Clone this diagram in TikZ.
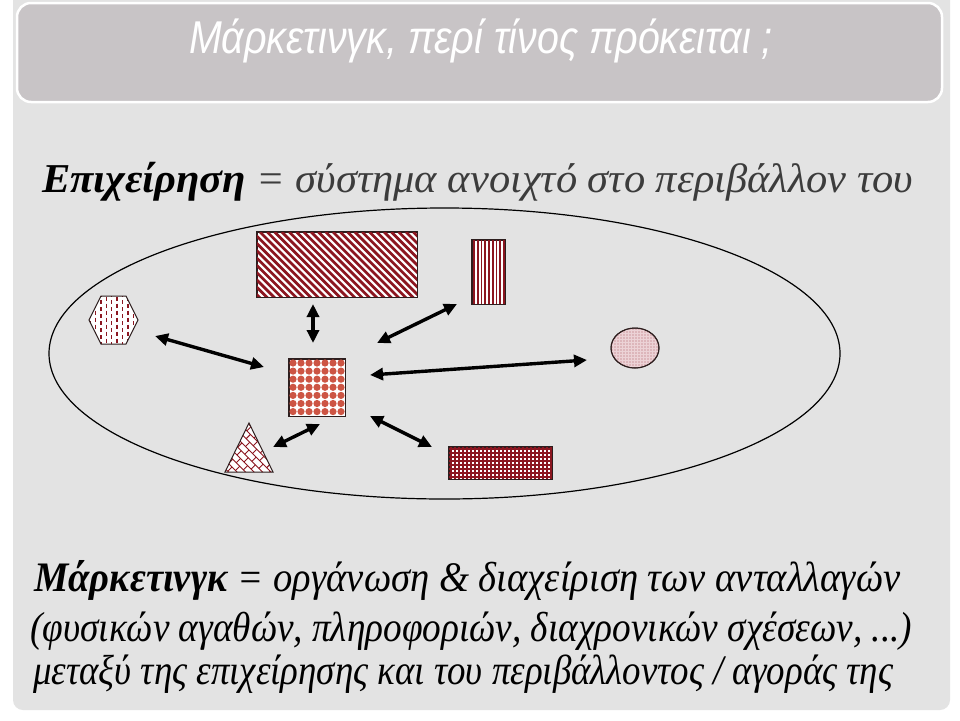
\documentclass[tikz,border=0pt]{standalone}
\usepackage{fontspec}
\usepackage{graphicx}
\setmainfont{Liberation Serif}
\newfontfamily\titlefont{Liberation Sans}
\usetikzlibrary{arrows.meta,shapes.geometric}
\definecolor{slidebg}{RGB}{227,227,227}
\definecolor{titlebg}{RGB}{200,196,198}
\definecolor{patred}{RGB}{140,22,32}
\definecolor{dotred}{RGB}{205,85,68}
\definecolor{pinkfill}{RGB}{236,210,214}
\definecolor{txtgray}{RGB}{60,60,60}
\definecolor{outline}{RGB}{45,30,30}

\begin{document}
\begin{tikzpicture}[x=1pt,y=-1pt,
  shapebox/.style={draw=outline, line width=1pt, inner sep=0pt, fill=white},
  shapeline/.style={draw=outline, line width=1pt},
  link/.style={line width=3.4pt, {Triangle[length=13pt,width=12pt]}-{Triangle[length=13pt,width=12pt]}},
  bodytext/.style={anchor=base west, inner sep=0pt, text=black}
]
\useasboundingbox (0,0) rectangle (960,720);
\fill[white] (0,0) rectangle (960,720);
\fill[slidebg, rounded corners=10pt] (13,-20) rectangle (950,710);

% title
\node[draw=white, line width=2.5pt, fill=titlebg, rounded corners=14pt,
      minimum width=925pt, minimum height=99pt, inner sep=0pt] (titlebox) at (479.5,52.5) {};
\node[anchor=base, inner sep=0pt, text=white] (title) at (481,53)
  {\resizebox{584pt}{\height}{\titlefont\itshape\fontsize{46}{50}\selectfont Μάρκετινγκ, περί τίνος πρόκειται ;}};

% header line
\node[bodytext] (hdr) at (42,192)
  {\resizebox{871pt}{\height}{\fontsize{41}{46}\selectfont\textbf{\textit{Επιχείρηση}} \textcolor{txtgray}{\textit{= σύστημα ανοιχτό στο περιβάλλον του}}}};

% environment ellipse
\draw[line width=1.2pt] (444.5,353.5) ellipse [x radius=395.5, y radius=145.5];

% diagonal striped rectangle
\node[shapebox, minimum width=160pt, minimum height=65pt] (big) at (337,264.5) {};
\begin{scope}
  \clip (257,232) rectangle (417,297);
  \foreach \i in {0,...,32} \draw[patred, line width=2.7pt] ({187+\i*7.3},232) -- ++(66,66);
\end{scope}
\draw[shapeline] (big.north west) rectangle (big.south east);

% vertical striped rectangle
\node[shapebox, minimum width=33pt, minimum height=64pt] (vert) at (488.5,272) {};
\begin{scope}
  \clip (472,240) rectangle (505,304);
  \foreach \i in {0,...,8} \draw[patred, line width=1.9pt] ({474+\i*3.75},240) -- ++(0,64);
\end{scope}
\draw[shapeline] (vert.north west) rectangle (vert.south east);

% firm: dotted square
\node[shapebox, minimum width=56pt, minimum height=57pt] (firm) at (317,387.5) {};
\begin{scope}
  \clip (289,359) rectangle (345,416);
  \foreach \i in {0,...,6} \foreach \j in {0,...,6}
    \fill[dotred] ({293+8*\i},{363+8.1*\j}) circle (3.6pt);
\end{scope}
\draw[shapeline] (firm.north west) rectangle (firm.south east);

% grid rectangle
\node[shapebox, minimum width=103pt, minimum height=32pt] (grid) at (500.5,463) {};
\begin{scope}
  \clip (449,447) rectangle (552,479);
  \foreach \i in {0,...,25} \draw[patred, line width=1.2pt] ({451+4*\i},447) -- ++(0,32);
  \foreach \j in {0,...,7} \draw[patred, line width=1.2pt] (449,{449+4*\j}) -- ++(103,0);
\end{scope}
\draw[shapeline] (grid.north west) rectangle (grid.south east);

% circle
\node[shapebox, ellipse, fill=pinkfill, minimum width=48pt, minimum height=40pt] (circ) at (635,348) {};
\begin{scope}
  \clip (635,348) ellipse [x radius=24, y radius=20];
  \foreach \i in {0,...,16} \foreach \j in {0,...,13}
    \fill[patred!70] ({612+3*\i},{329+3*\j}) circle (0.55pt);
\end{scope}
\draw[shapeline] (635,348) ellipse [x radius=24, y radius=20];

% hexagon
\coordinate (hex) at (113.5,320);
\fill[white] (89,320) -- (101,296) -- (126,296) -- (138,320) -- (126,344) -- (101,344) -- cycle;
\begin{scope}
  \clip (89,320) -- (101,296) -- (126,296) -- (138,320) -- (126,344) -- (101,344) -- cycle;
  \foreach \i in {0,...,9} \foreach \j in {0,...,7}
    \draw[patred, line width=1.4pt] ({90+5.4*\i},{293+7*\j+3.5*mod(\i,2)}) -- ++(0,4);
\end{scope}
\draw[shapeline] (89,320) -- (101,296) -- (126,296) -- (138,320) -- (126,344) -- (101,344) -- cycle;

% triangle with diagonal bricks
\coordinate (tri) at (249,455);
\fill[white] (225,472) -- (249,423) -- (273,472) -- cycle;
\begin{scope}
  \clip (225,472) -- (249,423) -- (273,472) -- cycle;
  \begin{scope}[shift={(249,450)}, rotate=-45]
    \foreach \j in {-7,...,7} {
      \draw[patred, line width=0.9pt] (-45,{6*\j}) -- (45,{6*\j});
      \foreach \k in {-5,...,5}
        \draw[patred, line width=0.9pt] ({10*\k+5*mod(abs(\j),2)},{6*\j}) -- ++(0,6);
    }
  \end{scope}
\end{scope}
\draw[shapeline] (225,472) -- (249,423) -- (273,472) -- cycle;

% arrow ends
\coordinate (a1s) at (155,336); \coordinate (a1e) at (264,367);
\coordinate (a2s) at (313,304); \coordinate (a2e) at (313,343);
\coordinate (a3s) at (377,343); \coordinate (a3e) at (457,304);
\coordinate (a4s) at (370,375); \coordinate (a4e) at (587,360);
\coordinate (a5s) at (273,447); \coordinate (a5e) at (320,424);
\coordinate (a6s) at (370,416); \coordinate (a6e) at (432,447);

\draw[link] (a1s) -- (a1e);
\draw[link] (a2s) -- (a2e);
\draw[link] (a3s) -- (a3e);
\draw[link] (a4s) -- (a4e);
\draw[link] (a5s) -- (a5e);
\draw[link] (a6s) -- (a6e);

% bottom text
\node[bodytext] (l1) at (34,591)
  {\resizebox{866pt}{\height}{\fontsize{42}{46}\selectfont\textbf{\textit{Μάρκετινγκ}} \textit{= οργάνωση \& διαχείριση των ανταλλαγών}}};
\node[bodytext] (l2) at (30,641)
  {\resizebox{882pt}{\height}{\fontsize{42}{46}\selectfont\textit{(φυσικών αγαθών, πληροφοριών, διαχρονικών σχέσεων, ...)}}};
\node[bodytext] (l3) at (33,684)
  {\resizebox{860pt}{\height}{\fontsize{42}{46}\selectfont\textit{μεταξύ της επιχείρησης και του περιβάλλοντος / αγοράς της}}};
\end{tikzpicture}
\end{document}
